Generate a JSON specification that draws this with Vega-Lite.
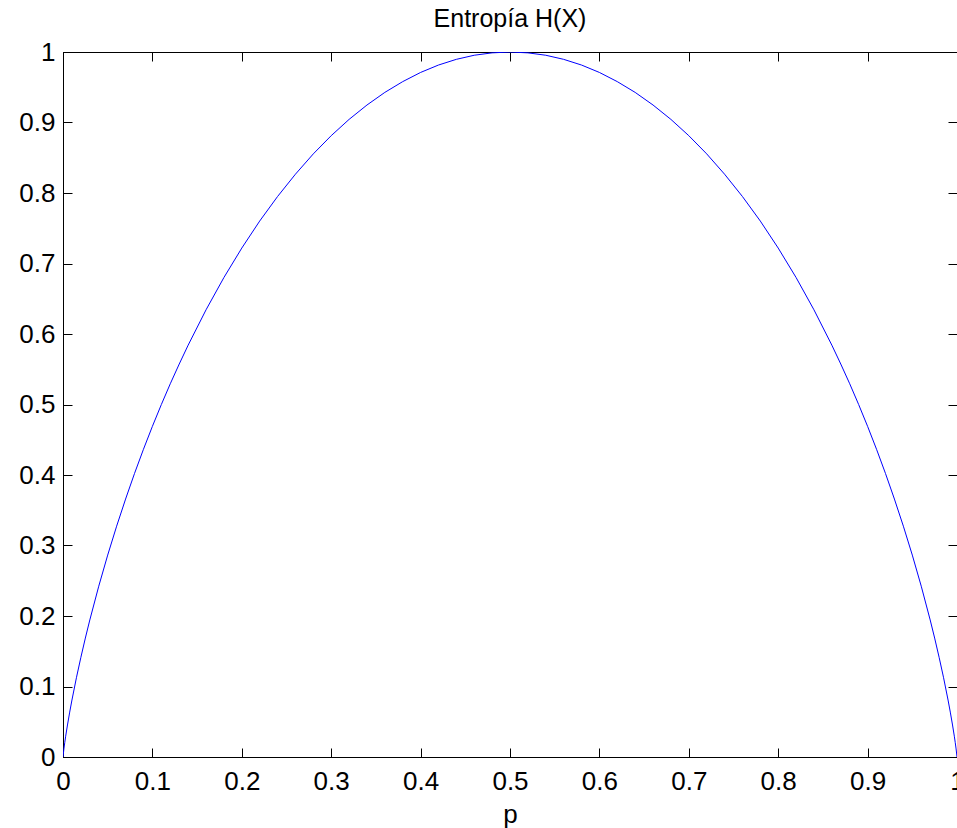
{
  "$schema": "https://vega.github.io/schema/vega-lite/v6.json",
  "width": 894,
  "height": 705,
  "autosize": "none",
  "padding": {"left": 63, "top": 52, "right": 0, "bottom": 71},
  "background": "white",
  "title": {"text": "Entropía H(X)", "font": "Liberation Sans", "fontSize": 25, "fontWeight": "normal", "color": "black", "anchor": "middle", "baseline": "alphabetic", "offset": 0, "dy": 13},
  "config": {
    "view": {"stroke": "black", "strokeWidth": 1},
    "axis": {
      "domainColor": "black", "tickColor": "black", "labelColor": "black", "titleColor": "black",
      "labelFont": "Liberation Sans", "labelFontSize": 26, "titleFont": "Liberation Sans", "titleFontSize": 26, "titleFontWeight": "normal",
      "grid": false, "tickSize": -9, "tickWidth": 1, "domainWidth": 1
    }
  },
  "data": {"values": [
    {"p": 0, "h": 0}, {"p": 0.001, "h": 0.0114}, {"p": 0.002, "h": 0.0208}, {"p": 0.003, "h": 0.0295},
    {"p": 0.005, "h": 0.0454}, {"p": 0.0075, "h": 0.0637}, {"p": 0.01, "h": 0.0808}, {"p": 0.015, "h": 0.1124},
    {"p": 0.02, "h": 0.1414}, {"p": 0.025, "h": 0.1687}, {"p": 0.03, "h": 0.1944}, {"p": 0.04, "h": 0.2423},
    {"p": 0.05, "h": 0.2864}, {"p": 0.06, "h": 0.3274}, {"p": 0.07, "h": 0.3659}, {"p": 0.08, "h": 0.4022},
    {"p": 0.09, "h": 0.4365}, {"p": 0.1, "h": 0.469}, {"p": 0.11, "h": 0.4999}, {"p": 0.12, "h": 0.5294},
    {"p": 0.13, "h": 0.5574}, {"p": 0.14, "h": 0.5842}, {"p": 0.16, "h": 0.6343}, {"p": 0.18, "h": 0.6801},
    {"p": 0.2, "h": 0.7219}, {"p": 0.22, "h": 0.7602}, {"p": 0.24, "h": 0.795}, {"p": 0.26, "h": 0.8267},
    {"p": 0.28, "h": 0.8555}, {"p": 0.3, "h": 0.8813}, {"p": 0.32, "h": 0.9044}, {"p": 0.34, "h": 0.9248},
    {"p": 0.36, "h": 0.9427}, {"p": 0.38, "h": 0.958}, {"p": 0.4, "h": 0.971}, {"p": 0.42, "h": 0.9815},
    {"p": 0.44, "h": 0.9896}, {"p": 0.46, "h": 0.9954}, {"p": 0.48, "h": 0.9988}, {"p": 0.5, "h": 1.0},
    {"p": 0.52, "h": 0.9988}, {"p": 0.54, "h": 0.9954}, {"p": 0.56, "h": 0.9896}, {"p": 0.58, "h": 0.9815},
    {"p": 0.6, "h": 0.971}, {"p": 0.62, "h": 0.958}, {"p": 0.64, "h": 0.9427}, {"p": 0.66, "h": 0.9248},
    {"p": 0.68, "h": 0.9044}, {"p": 0.7, "h": 0.8813}, {"p": 0.72, "h": 0.8555}, {"p": 0.74, "h": 0.8267},
    {"p": 0.76, "h": 0.795}, {"p": 0.78, "h": 0.7602}, {"p": 0.8, "h": 0.7219}, {"p": 0.82, "h": 0.6801},
    {"p": 0.84, "h": 0.6343}, {"p": 0.86, "h": 0.5842}, {"p": 0.87, "h": 0.5574}, {"p": 0.88, "h": 0.5294},
    {"p": 0.89, "h": 0.4999}, {"p": 0.9, "h": 0.469}, {"p": 0.91, "h": 0.4365}, {"p": 0.92, "h": 0.4022},
    {"p": 0.93, "h": 0.3659}, {"p": 0.94, "h": 0.3274}, {"p": 0.95, "h": 0.2864}, {"p": 0.96, "h": 0.2423},
    {"p": 0.97, "h": 0.1944}, {"p": 0.975, "h": 0.1687}, {"p": 0.98, "h": 0.1414}, {"p": 0.985, "h": 0.1124},
    {"p": 0.99, "h": 0.0808}, {"p": 0.9925, "h": 0.0637}, {"p": 0.995, "h": 0.0454}, {"p": 0.997, "h": 0.0295},
    {"p": 0.998, "h": 0.0208}, {"p": 0.999, "h": 0.0114}, {"p": 1, "h": 0}
  ]},
  "layer": [
    {
      "mark": {"type": "line", "color": "#0000ff", "strokeWidth": 1, "clip": true},
      "encoding": {
        "x": {"field": "p", "type": "quantitative", "scale": {"domain": [0, 1], "nice": false, "zero": false},
              "axis": {"orient": "bottom", "title": "p", "values": [0, 0.1, 0.2, 0.3, 0.4, 0.5, 0.6, 0.7, 0.8, 0.9, 1], "format": "~g", "labelPadding": 20, "titlePadding": 7, "labelFlush": false}},
        "y": {"field": "h", "type": "quantitative", "scale": {"domain": [0, 1], "nice": false},
              "axis": {"orient": "left", "title": null, "values": [0, 0.1, 0.2, 0.3, 0.4, 0.5, 0.6, 0.7, 0.8, 0.9, 1], "format": "~g", "labelPadding": 17, "labelFlush": false}}
      }
    },
    {
      "mark": {"type": "line", "opacity": 0},
      "encoding": {
        "x": {"field": "p", "type": "quantitative", "scale": {"domain": [0, 1], "nice": false, "zero": false},
              "axis": {"orient": "top", "title": null, "labels": false, "values": [0, 0.1, 0.2, 0.3, 0.4, 0.5, 0.6, 0.7, 0.8, 0.9, 1]}},
        "y": {"field": "h", "type": "quantitative", "scale": {"domain": [0, 1], "nice": false},
              "axis": {"orient": "right", "title": null, "labels": false, "values": [0, 0.1, 0.2, 0.3, 0.4, 0.5, 0.6, 0.7, 0.8, 0.9, 1]}}
      }
    }
  ],
  "resolve": {"axis": {"x": "independent", "y": "independent"}}
}
